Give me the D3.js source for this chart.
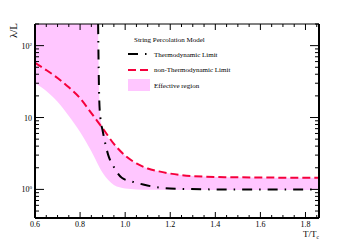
<!doctype html>
<html lang="en">
<head>
<meta charset="utf-8">
<title>String Percolation Model</title>
<script src="https://cdn.jsdelivr.net/npm/d3@7"></script>
<style>
  html, body { margin: 0; padding: 0; background: #fff; }
  svg { display: block; font-family: "Liberation Serif", "DejaVu Serif", serif; }
</style>
</head>
<body>
<svg id="chart" width="355" height="243"></svg>
<script>
// values
const thermoT      = [0.880, 0.882, 0.885, 0.890, 0.900, 0.910, 0.925, 0.950, 0.985, 1.04, 1.08, 1.15, 1.24, 1.40, 1.86];
const thermoLambda = [200,   60,    18,    10,    6.6,   4.6,   3.0,   2.05,  1.45,  1.26, 1.17, 1.06, 1.02, 1.0,  1.0];

const nonThermoT      = [0.60, 0.65, 0.70, 0.75, 0.80, 0.85, 0.90, 0.95, 1.00, 1.05, 1.10, 1.15, 1.20, 1.30, 1.45, 1.86];
const nonThermoLambda = [57.5, 45.7, 35.5, 26.3, 18.6, 11.5, 7.1,  4.3,  2.95, 2.3,  1.95, 1.78, 1.66, 1.53, 1.48, 1.45];

const bandLowT      = [0.60, 0.65, 0.70, 0.75, 0.80, 0.85, 0.90, 0.95, 1.00, 1.05, 1.10, 1.86];
const bandLowLambda = [30,   23.4, 16.6, 10.5, 6.3,  3.4,  1.7,  1.15, 1.03, 1.0,  0.99, 0.98];

const crossT = 0.893; // where the two limits meet
const xTicks = [0.6, 0.8, 1.0, 1.2, 1.4, 1.6, 1.8];
const yTicks = [1, 10, 100];
const yTickLabels = [["10", "0"], ["10", ""], ["10", "2"]];
const legendLabels = ["Thermodynamic Limit", "non-Thermodynamic Limit", "Effective region"];

const svg = d3.select("#chart");
const pLeft = 35, pRight = 319, pTop = 24, pBottom = 218;

const x = d3.scaleLinear().domain([0.6, 1.86]).range([pLeft, pRight]);
const y = d3.scaleLog().domain([0.4, 200]).range([pBottom, pTop]);

const pink = "#ffc6ff", red = "#f5003c";

svg.append("clipPath").attr("id", "plot")
  .append("rect").attr("x", pLeft).attr("y", pTop).attr("width", pRight - pLeft).attr("height", pBottom - pTop);

const g = svg.append("g").attr("clip-path", "url(#plot)");

const thermo = thermoT.map((t, i) => [t, thermoLambda[i]]);
const nonThermo = nonThermoT.map((t, i) => [t, nonThermoLambda[i]]);
const low = bandLowT.map((t, i) => [t, bandLowLambda[i]]);

// effective region: up to the larger of the two limits, down to the lower edge
const upper = [[0.6, 200]].concat(thermo.filter(d => d[0] <= crossT), nonThermo.filter(d => d[0] > crossT));
const line = d3.line().x(d => x(d[0])).y(d => y(d[1])).curve(d3.curveMonotoneX);

const bandPath = line(upper) + "L" + line(low.slice().reverse()).slice(1) + "Z";
g.append("path").attr("d", bandPath).attr("fill", pink).attr("stroke", "none");

g.append("path").attr("d", line(nonThermo))
  .attr("fill", "none").attr("stroke", red).attr("stroke-width", 2)
  .attr("stroke-dasharray", "8,4");

g.append("path").attr("d", line(thermo))
  .attr("fill", "none").attr("stroke", "#000").attr("stroke-width", 2)
  .attr("stroke-dasharray", "10,7,1.5,7");

// frame
const ax = svg.append("g").attr("stroke", "#000").attr("fill", "none");
ax.append("line").attr("x1", pLeft).attr("x2", pRight).attr("y1", pTop).attr("y2", pTop).attr("stroke-width", 1);
ax.append("line").attr("x1", pLeft).attr("x2", pRight).attr("y1", pBottom).attr("y2", pBottom).attr("stroke-width", 2);
ax.append("line").attr("x1", pLeft).attr("x2", pLeft).attr("y1", pTop).attr("y2", pBottom).attr("stroke-width", 2);
ax.append("line").attr("x1", pRight).attr("x2", pRight).attr("y1", pTop).attr("y2", pBottom).attr("stroke-width", 2);

// x ticks (inward, bottom and top)
const xMinor = d3.range(0.6, 1.851, 0.05);
xMinor.forEach(t => {
  const major = xTicks.some(m => Math.abs(m - t) < 1e-6);
  const len = major ? 6 : 3;
  ax.append("line").attr("x1", x(t)).attr("x2", x(t)).attr("y1", pBottom).attr("y2", pBottom - len).attr("stroke-width", 1);
  ax.append("line").attr("x1", x(t)).attr("x2", x(t)).attr("y1", pTop).attr("y2", pTop + len).attr("stroke-width", 1);
});

// y ticks (inward, left and right)
const yMinor = [];
[0.1, 1, 10, 100].forEach(dec => d3.range(2, 10).forEach(k => {
  const v = dec * k;
  if (v >= 0.4 && v <= 200) yMinor.push(v);
}));
yMinor.concat(yTicks).forEach(v => {
  const major = yTicks.includes(v);
  const len = major ? 9 : 4;
  ax.append("line").attr("x1", pLeft).attr("x2", pLeft + len).attr("y1", y(v)).attr("y2", y(v)).attr("stroke-width", 1);
  ax.append("line").attr("x1", pRight).attr("x2", pRight - len).attr("y1", y(v)).attr("y2", y(v)).attr("stroke-width", 1);
});

// tick labels
svg.append("g").selectAll("text").data(xTicks).join("text")
  .attr("x", d => x(d)).attr("y", 227).attr("text-anchor", "middle")
  .attr("font-size", 8).attr("fill", "#000")
  .text(d => d.toFixed(1));

const yl = svg.append("g").selectAll("text").data(yTicks).join("text")
  .attr("x", 32).attr("y", d => y(d) + 3).attr("text-anchor", "end")
  .attr("font-size", 8).attr("fill", "#000");
yl.append("tspan").text((d, i) => yTickLabels[i][0]);
yl.append("tspan").attr("dy", -3).attr("font-size", 5).text((d, i) => yTickLabels[i][1]);

// axis titles
svg.append("text").attr("transform", "translate(17,23) rotate(-90)")
  .attr("text-anchor", "end").attr("font-size", 11).text("λ/L");
const xt = svg.append("text").attr("x", pRight).attr("y", 237).attr("text-anchor", "end").attr("font-size", 9);
xt.append("tspan").text("T/T");
xt.append("tspan").attr("dy", 2).attr("font-size", 5.5).text("c");

// legend
const lg = svg.append("g").attr("font-size", 7).attr("fill", "#000");
lg.append("text").attr("x", 134).attr("y", 42).text("String Percolation Model");
lg.append("line").attr("x1", 128).attr("x2", 150).attr("y1", 54).attr("y2", 54)
  .attr("stroke", "#000").attr("stroke-width", 2).attr("stroke-dasharray", "10,7,1.5,7");
lg.append("line").attr("x1", 128).attr("x2", 150).attr("y1", 70).attr("y2", 70)
  .attr("stroke", red).attr("stroke-width", 2).attr("stroke-dasharray", "8,4");
lg.append("rect").attr("x", 128).attr("y", 79).attr("width", 22).attr("height", 12).attr("fill", pink);
lg.selectAll("text.item").data(legendLabels).join("text").attr("class", "item")
  .attr("x", 154).attr("y", (d, i) => 56.5 + i * 15.5).text(d => d);
</script>
</body>
</html>
